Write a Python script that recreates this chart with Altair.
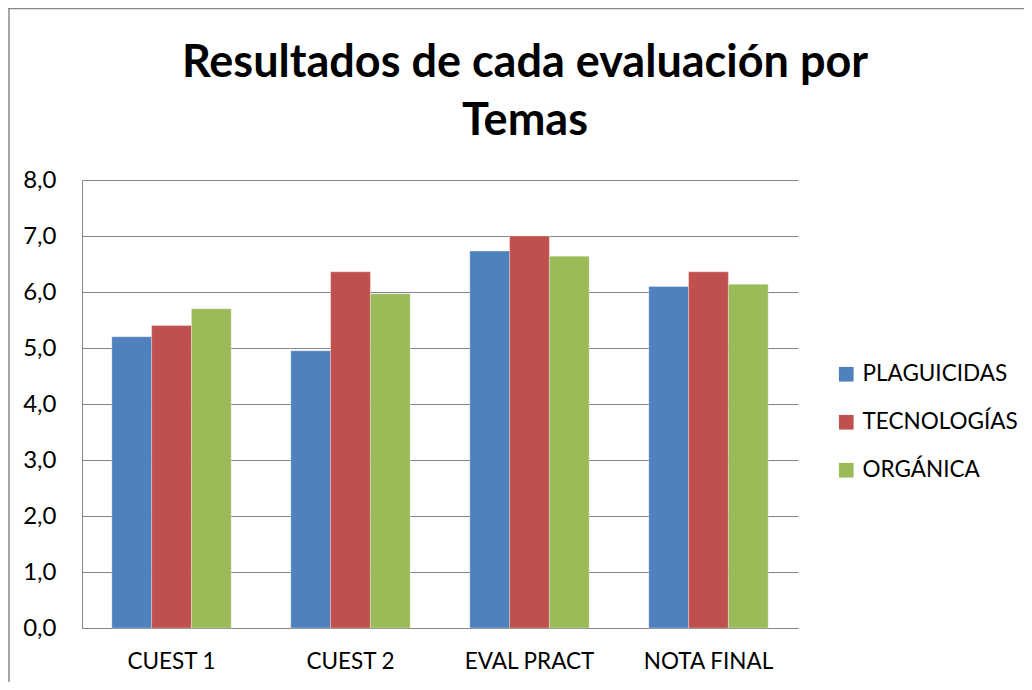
import altair as alt
import pandas as pd

categories = ["CUEST 1", "CUEST 2", "EVAL PRACT", "NOTA FINAL"]
series = ["PLAGUICIDAS", "TECNOLOGÍAS", "ORGÁNICA"]
plaguicidas = [5.20, 4.95, 6.73, 6.10]
tecnologias = [5.40, 6.36, 7.00, 6.36]
organica = [5.70, 5.97, 6.64, 6.14]
colors = ["#4F81BD", "#C0504D", "#9BBB59"]
y_ticks = [0, 1, 2, 3, 4, 5, 6, 7, 8]

rows = []
for s, vals in zip(series, [plaguicidas, tecnologias, organica]):
    for c, v in zip(categories, vals):
        rows.append({"cat": c, "serie": s, "valor": v})
df = pd.DataFrame(rows)

FONT = "Lato"

bars = alt.Chart(df).mark_bar(stroke="white", strokeWidth=0.6, strokeOpacity=0.5).encode(
    x=alt.X("cat:N", sort=categories, title=None,
            scale=alt.Scale(paddingInner=0.333, paddingOuter=0.1667),
            axis=alt.Axis(labelAngle=0, labelFontSize=22.5, labelFont=FONT, labelColor="black",
                          ticks=False, domainColor="#868686", labelPadding=22, grid=False)),
    xOffset=alt.XOffset("serie:N", sort=series, scale=alt.Scale(paddingInner=0, paddingOuter=0)),
    y=alt.Y("valor:Q", title=None,
            scale=alt.Scale(domain=[0, 8], nice=False),
            axis=alt.Axis(values=y_ticks, labelExpr="replace(format(datum.value, '.1f'), '.', ',')",
                          labelFontSize=24, labelFont=FONT, labelColor="black", ticks=False,
                          labelPadding=26, domainColor="#868686", gridColor="#868686",
                          gridWidth=1.2)),
    color=alt.Color("serie:N", sort=series, scale=alt.Scale(domain=series, range=colors),
                    legend=alt.Legend(title=None, orient="none", legendX=753, legendY=183,
                                      symbolType="square", symbolSize=215, symbolStrokeWidth=0,
                                      labelFontSize=22.5, labelFont=FONT, labelColor="black",
                                      labelLimit=400, rowPadding=25, labelOffset=5)),
)

frame_df = pd.DataFrame({"k": [0]})
frame_top = alt.Chart(frame_df).mark_rule(color="#888888", strokeWidth=1.5).encode(
    x=alt.value(-74), x2=alt.value(960), y=alt.value(-171.5))
frame_left = alt.Chart(frame_df).mark_rule(color="#888888", strokeWidth=1.5).encode(
    x=alt.value(-73), y=alt.value(-172), y2=alt.value(520))

chart = alt.layer(bars, frame_top, frame_left).properties(
    width=716, height=448,
    autosize=alt.AutoSizeParams(type="none"),
    padding={"left": 74, "top": 172, "right": 226, "bottom": 54},
    title=alt.TitleParams(["Resultados de cada evaluación por", "Temas"], font=FONT,
                          fontSize=45, fontWeight="bold", color="black", anchor="middle",
                          dx=85, offset=0, dy=137, lineHeight=58),
).configure_view(stroke=None)

chart.save("out.html", embed_options={"renderer": "svg", "actions": False})
